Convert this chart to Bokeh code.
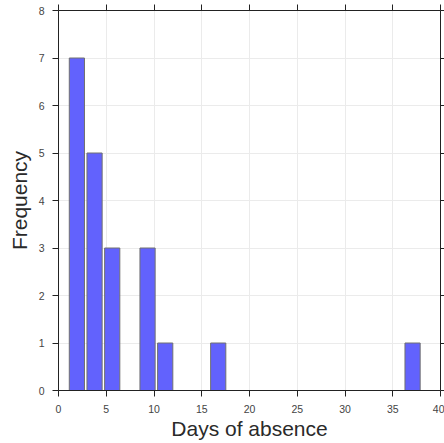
from bokeh.plotting import figure
from bokeh.models import LinearAxis, Range1d, FixedTicker
from bokeh.embed import file_html
from bokeh.resources import INLINE

# histogram data: 20 bins from 1 to 38 days
bin_start = 1.0
bin_end = 38.0
counts = [7, 5, 3, 0, 3, 1, 0, 0, 1, 0, 0, 0, 0, 0, 0, 0, 0, 0, 0, 1]
x_ticks = [0, 5, 10, 15, 20, 25, 30, 35, 40]
y_ticks = [0, 1, 2, 3, 4, 5, 6, 7, 8]

n = len(counts)
bw = (bin_end - bin_start) / n
centers = [bin_start + bw * (i + 0.5) for i in range(n)]

p = figure(width=444, height=443, output_backend="svg", toolbar_location=None,
           x_range=Range1d(0, 40), y_range=Range1d(0, 8),
           min_border_left=58, min_border_right=4, min_border_top=10, min_border_bottom=53)
p.outline_line_color = None

p.vbar(x=centers, top=counts, bottom=0, width=bw * 0.86,
       fill_color="#6262fd", line_color="#707070", line_width=1)

FONT = "Liberation Sans"
for ax in [p.xaxis[0], p.yaxis[0]]:
    ax.major_label_text_font = FONT
    ax.major_label_text_font_size = "10.5px"
    ax.major_label_text_color = "#444444"
    ax.axis_line_color = "#222222"
    ax.major_tick_line_color = "#222222"
    ax.major_tick_in = 0
    ax.major_tick_out = 6
    ax.minor_tick_line_color = None
    ax.axis_label_text_font = FONT
    ax.axis_label_text_font_size = "21px"
    ax.axis_label_text_font_style = "normal"
    ax.axis_label_text_color = "#2a2a2a"

p.xaxis[0].ticker = FixedTicker(ticks=x_ticks)
p.yaxis[0].ticker = FixedTicker(ticks=y_ticks)
p.xaxis[0].axis_label = "Days of absence"
p.yaxis[0].axis_label = "Frequency"
p.xaxis[0].major_label_standoff = 8
p.yaxis[0].major_label_standoff = 8
p.xaxis[0].axis_label_standoff = 1
p.yaxis[0].axis_label_standoff = 5

top = LinearAxis(ticker=FixedTicker(ticks=x_ticks),
                 major_label_overrides={t: "" for t in x_ticks}, major_label_standoff=0,
                 axis_line_color="#222222", major_tick_line_color="#222222",
                 major_tick_in=0, major_tick_out=6, minor_tick_line_color=None)
right = LinearAxis(ticker=FixedTicker(ticks=y_ticks),
                   major_label_overrides={t: "" for t in y_ticks}, major_label_standoff=0,
                   axis_line_color="#222222", major_tick_line_color="#222222",
                   major_tick_in=0, major_tick_out=4, minor_tick_line_color=None)
p.add_layout(top, "above")
p.add_layout(right, "right")

p.grid.grid_line_color = "#ebebeb"
p.xgrid.ticker = FixedTicker(ticks=x_ticks)
p.ygrid.ticker = FixedTicker(ticks=y_ticks)

html = file_html(p, INLINE)
html = html.replace("<body>", '<body style="margin:0">', 1)
open("out.html", "w").write(html)
